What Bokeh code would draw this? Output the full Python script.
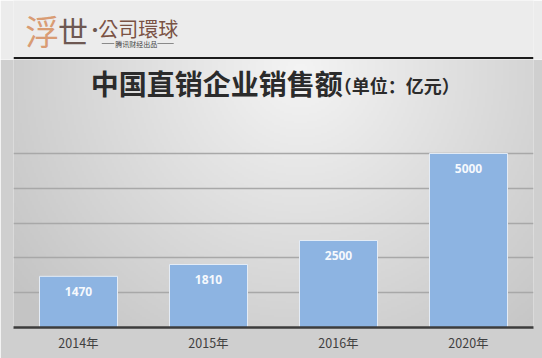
import numpy as np
from bokeh.plotting import figure
from bokeh.layouts import column
from bokeh.models import FactorRange, Range1d, FixedTicker, ColumnDataSource
from bokeh.core.properties import value
from bokeh.embed import file_html
from bokeh.resources import INLINE

# ---- data ----
years = ["2014年", "2015年", "2016年", "2020年"]
sales = [1470, 1810, 2500, 5000]
grid_ticks = [1000, 2000, 3000, 4000, 5000]
title_main = "中国直销企业销售额"
title_unit = "（单位：亿元）"
brand_a = "浮"
brand_b = "世"
brand_dot = "·"
brand_c = "公司環球"
brand_sub = "腾讯财经出品"

CJK = value("Noto Sans CJK SC")

# ---- header figure ----
W = 542
HH = 59
h = figure(width=W, height=HH, x_range=Range1d(0, W), y_range=Range1d(HH, 0),
           x_axis_location=None, y_axis_location=None, min_border=0,
           output_backend="svg", toolbar_location=None)
h.grid.visible = False
h.outline_line_color = None
h.background_fill_color = "#ececec"
h.border_fill_color = "#ececec"
h.quad(left=[0], right=[W], top=[56.5], bottom=[59], fill_color="#1c1c1c", line_color=None)
h.text(x=[30], y=[30], text=[brand_a], text_font=CJK, text_font_size="34px",
       text_color="#d99c74", text_align="center", text_baseline="middle")
h.text(x=[62], y=[29], text=[brand_b], text_font=CJK, text_font_size="30px",
       text_color="#6e5852", text_align="center", text_baseline="middle")
h.text(x=[85], y=[28], text=[brand_dot], text_font=CJK, text_font_size="16px",
       text_font_style="bold", text_color="#6e5852", text_align="center", text_baseline="middle")
h.text(x=[130], y=[28], text=[brand_c], text_font=value("Noto Sans CJK TC"), text_font_size="20px",
       text_color="#7a5244", text_align="center", text_baseline="middle")
h.text(x=[128], y=[43], text=[brand_sub], text_font=CJK, text_font_size="7px",
       text_color="#444444", text_align="center", text_baseline="middle")
h.segment(x0=[92, 150], y0=[43, 43], x1=[105, 167], y1=[43, 43], line_color="#8a8a8a", line_width=1)

# ---- chart figure ----
CH = 358 - HH
YMAX = 7700
p = figure(width=W, height=CH,
           x_range=FactorRange(factors=years, range_padding=0),
           y_range=Range1d(0, YMAX),
           min_border_left=13, min_border_right=9, min_border_top=0, min_border_bottom=31,
           output_backend="svg", toolbar_location=None)
p.outline_line_color = None
p.border_fill_color = "#cfcfcf"
p.background_fill_color = "#dcdcdc"

# background gradient (style only)
gh, gw = 134, 260
ys = 327 - (np.arange(gh) + 0.5) * 2.0
xs = 13 + (np.arange(gw) + 0.5) * 2.0
X, Y = np.meshgrid(xs, ys)
r = np.sqrt(((X - 300) / 300.0) ** 2 + ((Y - 70) / 300.0) ** 2)
c = (244 - 40 * np.clip(r, 0, 1.2)).clip(195, 245).astype(np.uint32)
img = (255 << 24) | (c << 16) | (c << 8) | c
p.image_rgba(image=[img.astype(np.uint32)], x=0, y=0, dw=4, dh=YMAX, level="image")

src = ColumnDataSource(dict(year=years, sales=sales, label=[str(v) for v in sales]))
p.vbar(x="year", top="sales", width=0.6, source=src,
       fill_color="#8db4e2", line_color="#e4ecf6", line_width=1)
p.text(x="year", y="sales", text="label", source=src, y_offset=15,
       text_font=value("Noto Sans"), text_font_style="bold", text_font_size="12px",
       text_color="#f6f9fd", text_align="center", text_baseline="middle")

# title
p.text(x=[0.595], y=[7011], text=[title_main], text_font=CJK, text_font_style="bold",
       text_font_size="28px", text_color="#2b2b2b", text_align="left", text_baseline="middle")
p.text(x=[2.463], y=[6954], text=[title_unit], text_font=CJK, text_font_style="bold",
       text_font_size="18px", text_color="#2b2b2b", text_align="left", text_baseline="middle")

# grid & axes
p.xgrid.grid_line_color = None
p.ygrid.ticker = FixedTicker(ticks=grid_ticks)
p.ygrid.grid_line_color = "#a8a8a8"
p.ygrid.grid_line_width = 1.5
p.yaxis.visible = False
p.xaxis.axis_line_color = "#3c3c3c"
p.xaxis.axis_line_width = 2.5
p.xaxis.major_tick_line_color = None
p.xaxis.minor_tick_line_color = None
p.xaxis.major_label_standoff = -1
p.xaxis.major_label_text_font = "Noto Sans CJK SC"
p.xaxis.major_label_text_font_size = "12.5px"
p.xaxis.major_label_text_color = "#404040"

layout = column(h, p, spacing=0)
open("out.html", "w").write(file_html(layout, INLINE))
